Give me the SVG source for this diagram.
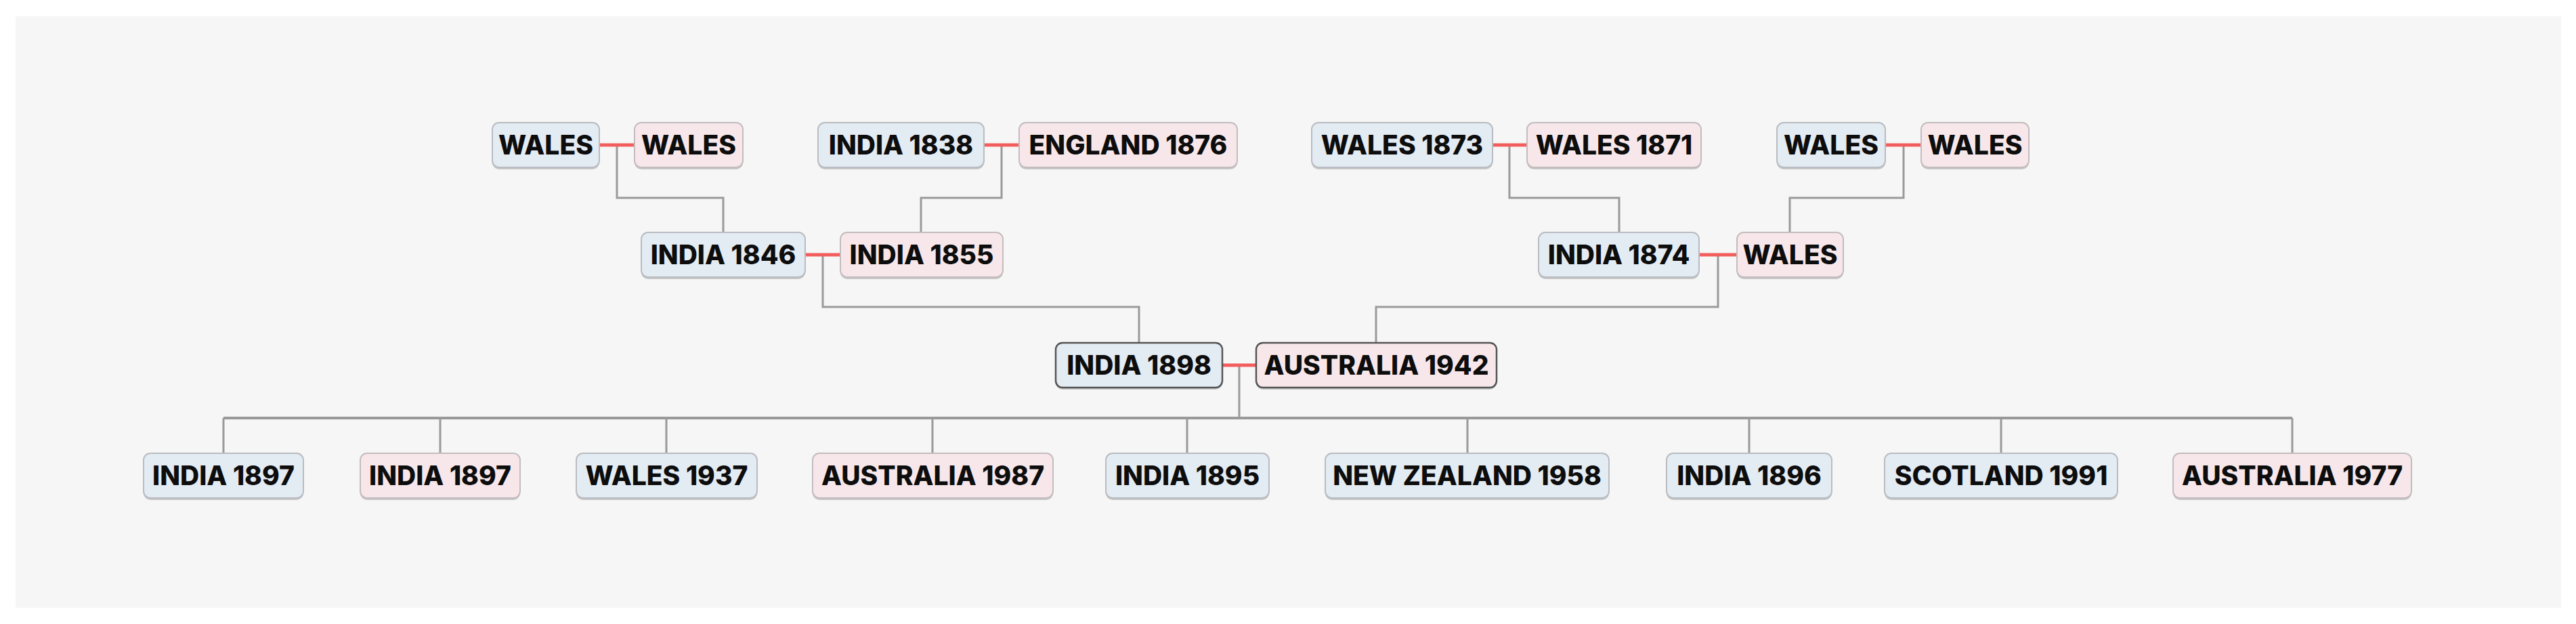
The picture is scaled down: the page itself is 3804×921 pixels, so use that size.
<svg xmlns="http://www.w3.org/2000/svg" width="3804" height="921" viewBox="0 0 3804 921">
<defs>
<style>
.bg{fill:#ffffff}
.panel{fill:#f6f6f6}
.shadow{fill:#c6c6c6}
.m{fill:#e3ebf3;stroke:#b9bcc0;stroke-width:2}
.f{fill:#f7e7ea;stroke:#c4bcbe;stroke-width:2}
.sel{stroke:#555555;stroke-width:2.5}
.t{font-family:Inter,"Liberation Sans",Arial,sans-serif;font-weight:800;font-size:39px;fill:#0d0d0d;text-anchor:middle}
.spouse{stroke:#f25e5e;stroke-width:5;fill:none}
.link{stroke:#9a9a9a;stroke-width:3;fill:none}
.bus{stroke:#999999;stroke-width:4;fill:none}
</style>
</defs>
<rect class="bg" x="0" y="0" width="3804" height="921"/>
<rect class="panel" x="23" y="24" width="3759" height="873"/>

<g id="connectors">
<path class="link" d="M911 214V292H1068V343"/>
<path class="link" d="M1479 214V292H1360V343"/>
<path class="link" d="M2229 214V292H2391V343"/>
<path class="link" d="M2811 214V292H2643V343"/>
<path class="link" d="M1215 376V453H1682V506"/>
<path class="link" d="M2537 376V453H2032V506"/>
<path class="link" d="M1830 539V617"/>
<path class="bus" d="M330 617H3385"/>
<path class="link" d="M330 617V669M650 617V669M984 617V669M1377 617V669M1753 617V669M2167 617V669M2583 617V669M2955 617V669M3385 617V669"/>
<path class="spouse" d="M885 214H937M1453 214H1505M2204 214H2255M2784 214H2837M1189 376H1241M2509 376H2565M1805 539H1855"/>
</g>

<g id="n-wales-a"><rect class="shadow" x="727" y="184" width="158" height="66" rx="10"/><rect class="m" x="727" y="181" width="158" height="66" rx="10"/><text class="t" x="806" y="228">WALES</text></g>
<g id="n-wales-b"><rect class="shadow" x="937" y="184" width="160" height="66" rx="10"/><rect class="f" x="937" y="181" width="160" height="66" rx="10"/><text class="t" x="1017" y="228">WALES</text></g>
<g id="n-india-1838"><rect class="shadow" x="1208" y="184" width="245" height="66" rx="10"/><rect class="m" x="1208" y="181" width="245" height="66" rx="10"/><text class="t" x="1330.5" y="228">INDIA 1838</text></g>
<g id="n-england-1876"><rect class="shadow" x="1505" y="184" width="322" height="66" rx="10"/><rect class="f" x="1505" y="181" width="322" height="66" rx="10"/><text class="t" x="1666" y="228">ENGLAND 1876</text></g>
<g id="n-wales-1873"><rect class="shadow" x="1937" y="184" width="267" height="66" rx="10"/><rect class="m" x="1937" y="181" width="267" height="66" rx="10"/><text class="t" x="2070.5" y="228">WALES 1873</text></g>
<g id="n-wales-1871"><rect class="shadow" x="2255" y="184" width="257" height="66" rx="10"/><rect class="f" x="2255" y="181" width="257" height="66" rx="10"/><text class="t" x="2383.5" y="228">WALES 1871</text></g>
<g id="n-wales-c"><rect class="shadow" x="2624" y="184" width="160" height="66" rx="10"/><rect class="m" x="2624" y="181" width="160" height="66" rx="10"/><text class="t" x="2704" y="228">WALES</text></g>
<g id="n-wales-d"><rect class="shadow" x="2837" y="184" width="159" height="66" rx="10"/><rect class="f" x="2837" y="181" width="159" height="66" rx="10"/><text class="t" x="2916.5" y="228">WALES</text></g>

<g id="n-india-1846"><rect class="shadow" x="947" y="346" width="242" height="66" rx="10"/><rect class="m" x="947" y="343" width="242" height="66" rx="10"/><text class="t" x="1068" y="390">INDIA 1846</text></g>
<g id="n-india-1855"><rect class="shadow" x="1241" y="346" width="240" height="66" rx="10"/><rect class="f" x="1241" y="343" width="240" height="66" rx="10"/><text class="t" x="1361" y="390">INDIA 1855</text></g>
<g id="n-india-1874"><rect class="shadow" x="2272" y="346" width="237" height="66" rx="10"/><rect class="m" x="2272" y="343" width="237" height="66" rx="10"/><text class="t" x="2390.5" y="390">INDIA 1874</text></g>
<g id="n-wales-e"><rect class="shadow" x="2565" y="346" width="157" height="66" rx="10"/><rect class="f" x="2565" y="343" width="157" height="66" rx="10"/><text class="t" x="2643.5" y="390">WALES</text></g>

<g id="n-india-1898"><rect class="shadow" x="1559" y="509" width="246" height="66" rx="10"/><rect class="m sel" x="1559" y="506" width="246" height="66" rx="10"/><text class="t" x="1682" y="553">INDIA 1898</text></g>
<g id="n-australia-1942"><rect class="shadow" x="1855" y="509" width="355" height="66" rx="10"/><rect class="f sel" x="1855" y="506" width="355" height="66" rx="10"/><text class="t" x="2032.5" y="553">AUSTRALIA 1942</text></g>

<g id="n-india-1897-a"><rect class="shadow" x="212" y="672" width="236" height="66" rx="10"/><rect class="m" x="212" y="669" width="236" height="66" rx="10"/><text class="t" x="330" y="716">INDIA 1897</text></g>
<g id="n-india-1897-b"><rect class="shadow" x="532" y="672" width="236" height="66" rx="10"/><rect class="f" x="532" y="669" width="236" height="66" rx="10"/><text class="t" x="650" y="716">INDIA 1897</text></g>
<g id="n-wales-1937"><rect class="shadow" x="851" y="672" width="267" height="66" rx="10"/><rect class="m" x="851" y="669" width="267" height="66" rx="10"/><text class="t" x="984.5" y="716">WALES 1937</text></g>
<g id="n-australia-1987"><rect class="shadow" x="1200" y="672" width="355" height="66" rx="10"/><rect class="f" x="1200" y="669" width="355" height="66" rx="10"/><text class="t" x="1377.5" y="716">AUSTRALIA 1987</text></g>
<g id="n-india-1895"><rect class="shadow" x="1633" y="672" width="241" height="66" rx="10"/><rect class="m" x="1633" y="669" width="241" height="66" rx="10"/><text class="t" x="1753.5" y="716">INDIA 1895</text></g>
<g id="n-new-zealand-1958"><rect class="shadow" x="1957" y="672" width="419" height="66" rx="10"/><rect class="m" x="1957" y="669" width="419" height="66" rx="10"/><text class="t" x="2166.5" y="716">NEW ZEALAND 1958</text></g>
<g id="n-india-1896"><rect class="shadow" x="2461" y="672" width="244" height="66" rx="10"/><rect class="m" x="2461" y="669" width="244" height="66" rx="10"/><text class="t" x="2583" y="716">INDIA 1896</text></g>
<g id="n-scotland-1991"><rect class="shadow" x="2783" y="672" width="344" height="66" rx="10"/><rect class="m" x="2783" y="669" width="344" height="66" rx="10"/><text class="t" x="2955" y="716">SCOTLAND 1991</text></g>
<g id="n-australia-1977"><rect class="shadow" x="3209" y="672" width="352" height="66" rx="10"/><rect class="f" x="3209" y="669" width="352" height="66" rx="10"/><text class="t" x="3385" y="716">AUSTRALIA 1977</text></g>
</svg>
